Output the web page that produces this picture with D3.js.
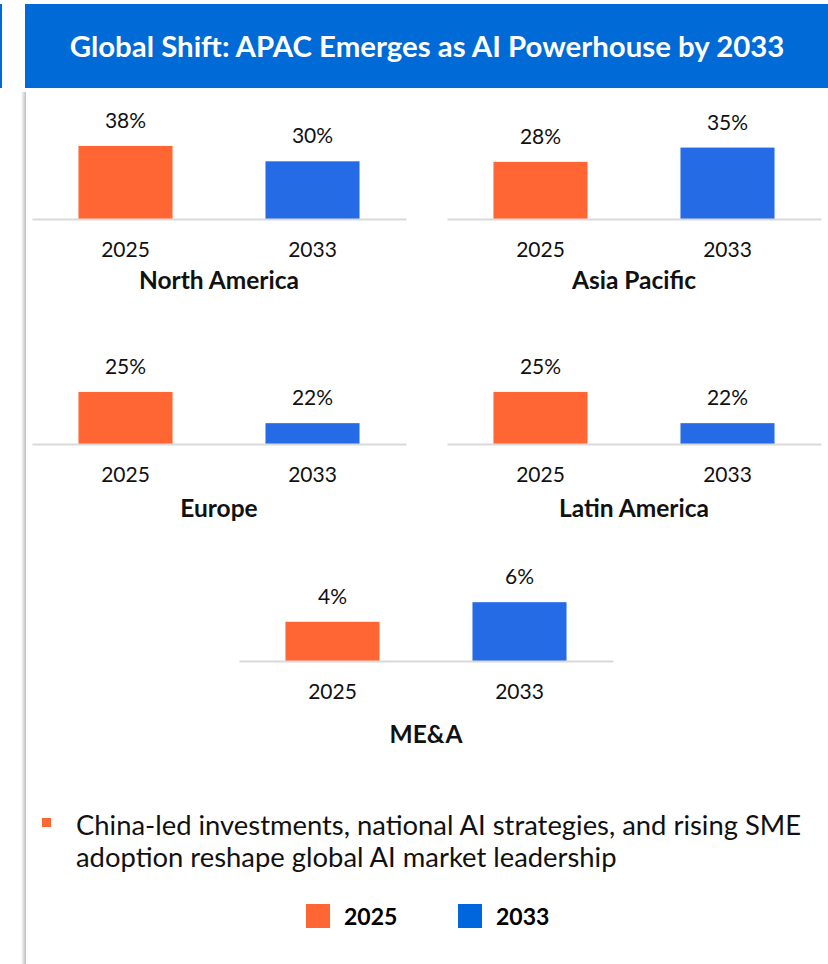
<!DOCTYPE html>
<html>
<head>
<meta charset="utf-8">
<script src="https://cdn.jsdelivr.net/npm/d3@7"></script>
<style>
  body { margin: 0; background: #fff; }
  svg { display: block; font-family: Lato, "Open Sans", sans-serif; }
</style>
</head>
<body>
<div id="chart"></div>
<script>
// data
var regions = ["North America", "Asia Pacific", "Europe", "Latin America", "ME&A"];
var years = ["2025", "2033"];
var share2025 = [38, 28, 25, 25, 4];
var share2033 = [30, 35, 22, 22, 6];
// each mini chart has its own value axis (auto axes in the source)
var axisMin = [0, 0, 20, 20, 0];
var axisMax = [52, 49, 29.6, 29.6, 10.2];

var titleText = "Global Shift: APAC Emerges as AI Powerhouse by 2033";
var noteLines = ["China-led investments, national AI strategies, and rising SME",
  "adoption reshape global AI market leadership"];

var colors = { "2025": "#ff6633", "2033": "#266be6" };
var legendColors = { "2025": "#ff6633", "2033": "#0066dd" };

var W = 828, H = 964;

// layout of the five small panels
var panelLeft = [32, 447, 32, 447, 239],
  panelBase = [219, 219, 444, 444, 661],
  nameGap = [70, 70, 73, 73, 82],
  panelW = 374,
  plotH = 100;

var svg = d3.select("#chart")
  .append("svg")
  .attr("width", W)
  .attr("height", H);

// left shadow of the content card
var defs = svg.append("defs");
var grad = defs.append("linearGradient").attr("id", "shade");
grad.append("stop").attr("offset", "0%").attr("stop-color", "#ffffff");
grad.append("stop").attr("offset", "100%").attr("stop-color", "#bdbdbd");
svg.append("rect")
  .attr("x", 21).attr("y", 92)
  .attr("width", 5).attr("height", H - 92)
  .attr("fill", "url(#shade)");

// header band
svg.append("rect").attr("x", 0).attr("y", 4).attr("width", 2).attr("height", 84).attr("fill", "#006ad6");
svg.append("rect").attr("x", 25).attr("y", 4).attr("width", W - 25).attr("height", 84).attr("fill", "#006ad6");
svg.append("text")
  .attr("x", 427)
  .attr("y", 57)
  .attr("text-anchor", "middle")
  .style("fill", "#fff")
  .style("font-size", "29.4px")
  .style("font-weight", "bold")
  .text(titleText);

// mini bar charts
var x = d3.scaleBand()
  .domain(years)
  .range([0, panelW])
  .paddingInner(0.497)
  .paddingOuter(0.2485);

regions.forEach(function (name, i) {
  var vals = [share2025[i], share2033[i]];
  var y = d3.scaleLinear()
    .domain([axisMin[i], axisMax[i]])
    .range([plotH, 0]);

  var g = svg.append("g")
    .attr("transform", "translate(" + panelLeft[i] + "," + (panelBase[i] - plotH) + ")");

  g.selectAll("rect.bar")
    .data(years)
    .enter()
    .append("rect")
    .attr("class", "bar")
    .attr("x", function (d) { return x(d) })
    .attr("width", x.bandwidth())
    .attr("y", function (d, j) { return y(vals[j]) })
    .attr("height", function (d, j) { return plotH - y(vals[j]) })
    .attr("fill", function (d) { return colors[d] });

  g.selectAll("text.lbl")
    .data(years)
    .enter()
    .append("text")
    .attr("class", "lbl")
    .attr("x", function (d) { return x(d) + x.bandwidth() / 2 })
    .attr("y", function (d, j) { return y(vals[j]) - 18 })
    .attr("text-anchor", "middle")
    .style("font-size", "21px")
    .style("fill", "#111")
    .text(function (d, j) { return vals[j] + "%" });

  var ax = g.append("g")
    .attr("transform", "translate(0," + plotH + ")")
    .call(d3.axisBottom(x).tickSize(0).tickSizeOuter(0));
  ax.select(".domain").attr("stroke", "#d9d9d9").attr("stroke-width", 2);
  ax.selectAll("text")
    .attr("y", 38)
    .attr("dy", null)
    .style("font-family", "Lato, sans-serif")
    .style("font-size", "21px")
    .style("fill", "#111");

  g.append("text")
    .attr("x", panelW / 2)
    .attr("y", plotH + nameGap[i])
    .attr("text-anchor", "middle")
    .style("font-size", "24.5px")
    .style("font-weight", "bold")
    .style("fill", "#111")
    .text(name);
});

// bullet note
svg.append("rect")
  .attr("x", 42).attr("y", 818)
  .attr("width", 9).attr("height", 9)
  .attr("fill", "#ff6633");
svg.append("text")
  .attr("x", 76)
  .attr("y", 835)
  .style("font-size", "27.4px")
  .style("fill", "#111")
  .selectAll("tspan")
  .data(noteLines)
  .enter()
  .append("tspan")
  .attr("x", 76)
  .attr("dy", function (d, i) { return i === 0 ? 0 : 32 })
  .text(function (d) { return d });

// legend
var legendX = [306, 458];
var leg = svg.selectAll("g.leg")
  .data(years)
  .enter()
  .append("g")
  .attr("class", "leg")
  .attr("transform", function (d, i) { return "translate(" + legendX[i] + ",904)" });
leg.append("rect")
  .attr("width", 24).attr("height", 24)
  .attr("fill", function (d) { return legendColors[d] });
leg.append("text")
  .attr("x", 38)
  .attr("y", 21)
  .style("font-size", "23px")
  .style("font-weight", "bold")
  .style("fill", "#000")
  .text(function (d) { return d });
</script>
</body>
</html>
